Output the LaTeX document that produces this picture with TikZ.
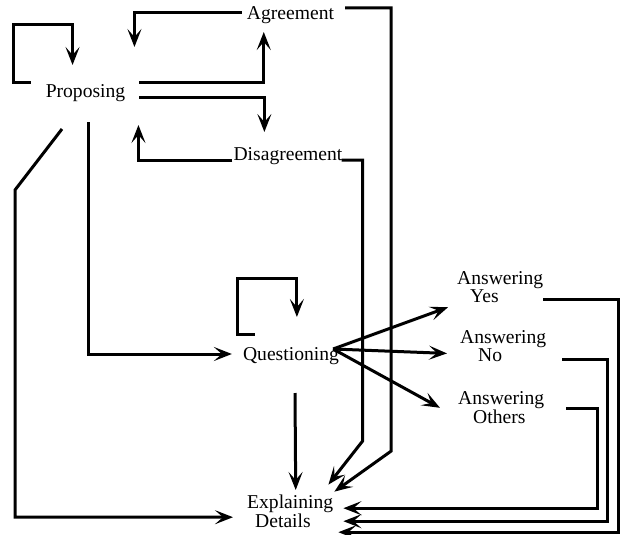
\documentclass[tikz,border=0pt]{standalone}
\usepackage{fontspec}
\setmainfont{Liberation Serif}
\usetikzlibrary{arrows.meta}

\begin{document}
\begin{tikzpicture}[x=1pt, y=-1pt,
        act/.style={inner sep=0pt, font=\fontsize{19.6}{17}\selectfont},
        flow/.style={line width=3pt, -{Stealth[length=18pt, width=14pt, inset=8pt]}}]
        \useasboundingbox (0,0) rectangle (626,535);

        \node [act, anchor=base] (prop) at (85.5,97) {Proposing};
        \node [act, anchor=base] (agr) at (290.5,20) {Agreement};
        \node [act, anchor=base] (dis) at (288,160) {Disagreement};
        \node [act, anchor=base] (que) at (291,360) {Questioning};
        \node [act, anchor=north west, align=left] (yes) at (457,271.6) {Answering\\\hspace*{13pt}Yes};
        \node [act, anchor=north west, align=left] (no) at (460,330.6) {Answering\\\hspace*{18pt}No};
        \node [act, anchor=north west, align=left] (oth) at (458,391.6) {Answering\\\hspace*{15pt}Others};
        \node [act, anchor=north west, align=left, font=\fontsize{19.6}{19}\selectfont] (expl) at (247,494.6) {Explaining\\\hspace*{8pt}Details};

        \draw [flow] ([shift={(-15,-15)}]prop.base west) -- ++(-17,0) -- ++(0,-57) -- ++(59,0) -- ++(0,40);
        \draw [flow] ([shift={(-5,-7)}]agr.base west) -| ([shift={(9,-50)}]prop.base east);
        \draw [flow] ([shift={(14,-15)}]prop.base east) -| ([shift={(17,12)}]agr.base west);
        \draw [flow] ([shift={(14,0)}]prop.base east) -| ([shift={(31,-28)}]dis.base west);
        \draw [flow] ([shift={(-1,0)}]dis.base west) -| ([shift={(13,28)}]prop.base east);
        \draw [flow] ([shift={(2.5,25)}]prop.base) |- ([shift={(-11,-6)}]que.base west);
        \draw [flow] ([shift={(-23.5,32)}]prop.base) -- ++(-47,61) |- ([shift={(-14,6)}]expl.west);
        \draw [flow] ([shift={(11,-12)}]agr.base east) -- ++(46,0) -- ++(0,443) -- ([shift={(1,-3)}]expl.north east);
        \draw [flow] ([shift={(-1,0)}]dis.base east) -- ++(21,0) -- ++(0,281) -- ([shift={(-5,-10)}]expl.north east);

        \draw [flow] ([shift={(12,-26)}]que.base west) -- ++(-17,0) -- ++(0,-56) -- ++(59,0) -- ++(0,39);
        \draw [flow] ([shift={(-6,-11)}]que.base east) -- ([shift={(-9,4)}]yes.south west);
        \draw [flow] ([shift={(-6,-11)}]que.base east) -- ([shift={(-13,7)}]no.west);
        \draw [flow] ([shift={(-6,-11)}]que.base east) -- ([shift={(-18,0)}]oth.west);
        \draw [flow] ([shift={(4,33)}]que.base) -- ([shift={(5.5,-4.6)}]expl.north);

        \draw [flow] ([shift={(0,12)}]yes.east) -- ++(75,0) |- ([shift={(5,21)}]expl.east);
        \draw [flow] ([shift={(16,13)}]no.east) -- ++(45,0) |- ([shift={(10,10)}]expl.east);
        \draw [flow] ([shift={(22,1)}]oth.east) -- ++(31,0) |- ([shift={(10,-3)}]expl.east);
\end{tikzpicture}
\end{document}
